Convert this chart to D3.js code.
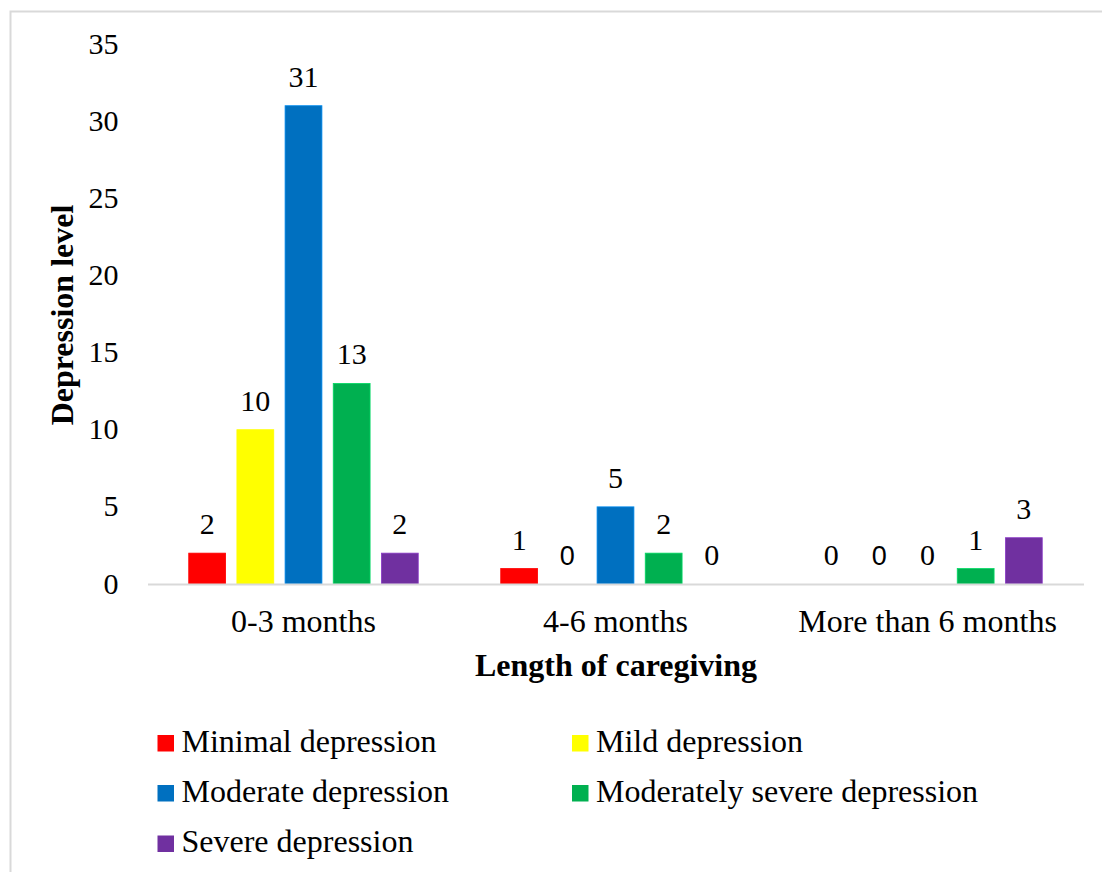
<!DOCTYPE html>
<html>
<head>
<meta charset="utf-8">
<script src="https://cdn.jsdelivr.net/npm/d3@7"></script>
<style>
  html, body { margin: 0; padding: 0; background: #fff; }
  svg { display: block; }
  text { font-family: "Liberation Serif", "Times New Roman", serif; fill: #000; }
</style>
</head>
<body>
<svg id="chart" width="1102" height="872"></svg>
<script>
// ---- data ----
const categories = ["0-3 months", "4-6 months", "More than 6 months"];
const seriesNames = ["Minimal depression", "Mild depression", "Moderate depression", "Moderately severe depression", "Severe depression"];
const minimalValues = [2, 1, 0];
const mildValues = [10, 0, 0];
const moderateValues = [31, 5, 0];
const modSevereValues = [13, 2, 1];
const severeValues = [2, 0, 3];
const yTicks = [0, 5, 10, 15, 20, 25, 30, 35];
const xTitle = "Length of caregiving";
const yTitle = "Depression level";

// ---- styles ----
const colors = ["#FF0000", "#FFFF00", "#0070C0", "#00B050", "#7030A0"];
// labels drawn in a sans face in the original: [categoryIndex, seriesIndex]
const sansLabelKeys = new Set(["1-1", "2-1"]);

const seriesValues = [minimalValues, mildValues, moderateValues, modSevereValues, severeValues];

const svg = d3.select("#chart");
const W = 1102, H = 872;

// outer border
svg.append("rect")
  .attr("x", 10.5).attr("y", 11.5)
  .attr("width", W + 20).attr("height", H + 20)
  .attr("fill", "#fff").attr("stroke", "#d9d9d9").attr("stroke-width", 2);

const plot = { left: 147.5, right: 1083.5, top: 44, bottom: 584 };

const x0 = d3.scaleBand().domain(categories).range([plot.left, plot.right]).paddingInner(0).paddingOuter(0);
const groupWidth = 229.5;
const x1 = d3.scaleBand().domain(seriesNames).range([0, groupWidth]).paddingInner(0.235).paddingOuter(0);
const y = d3.scaleLinear().domain([0, 35]).range([plot.bottom, plot.top]);

// y axis labels (no line, no ticks)
const yAxis = d3.axisLeft(y).tickValues(yTicks).tickSize(0).tickPadding(0);
const yg = svg.append("g").attr("transform", `translate(${118.5},0)`).call(yAxis);
yg.select(".domain").remove();
yg.selectAll("text")
  .attr("font-family", "Liberation Serif, Times New Roman, serif")
  .attr("font-size", 30).attr("fill", "#000")
  .attr("dy", "0.3em");

// bars
const groups = svg.append("g").selectAll("g")
  .data(categories)
  .join("g")
  .attr("transform", d => `translate(${x0(d) + x0.bandwidth() / 2 - groupWidth / 2},0)`);

groups.each(function (cat, ci) {
  const g = d3.select(this);
  seriesNames.forEach((s, si) => {
    const v = seriesValues[si][ci];
    if (v > 0) {
      g.append("rect")
        .attr("x", x1(s))
        .attr("y", y(v))
        .attr("width", x1.bandwidth())
        .attr("height", y(0) - y(v))
        .attr("fill", colors[si])
        .attr("stroke", d3.color(colors[si]).brighter(0.6))
        .attr("stroke-width", 0.8);
    }
    const sans = sansLabelKeys.has(`${ci}-${si}`);
    g.append("text")
      .attr("x", x1(s) + x1.bandwidth() / 2)
      .attr("y", y(v) - 19)
      .attr("text-anchor", "middle")
      .attr("font-size", sans ? 27 : 30)
      .style("font-family", sans ? "'Liberation Sans', Arial, sans-serif" : "'Liberation Serif', 'Times New Roman', serif")
      .text(v);
  });
});

// x axis line
const xAxis = d3.axisBottom(x0).tickSize(0).tickPadding(0);
const xg = svg.append("g").attr("transform", `translate(0,${plot.bottom})`).call(xAxis);
xg.select(".domain").attr("stroke", "#d9d9d9").attr("stroke-width", 2);
xg.selectAll("text")
  .attr("font-family", "Liberation Serif, Times New Roman, serif")
  .attr("font-size", 32).attr("fill", "#000")
  .attr("y", 48).attr("dy", 0);

// axis titles
svg.append("text")
  .attr("x", 616).attr("y", 676)
  .attr("text-anchor", "middle")
  .attr("font-size", 32).attr("font-weight", "bold")
  .text(xTitle);

svg.append("text")
  .attr("transform", `translate(73,315) rotate(-90)`)
  .attr("text-anchor", "middle")
  .attr("font-size", 32).attr("font-weight", "bold")
  .text(yTitle);

// legend
const legendPos = [
  { x: 157.5, y: 751.5 },
  { x: 572, y: 751.5 },
  { x: 157.5, y: 801.5 },
  { x: 572, y: 801.5 },
  { x: 157.5, y: 852 }
];
const legend = svg.append("g").selectAll("g")
  .data(seriesNames)
  .join("g")
  .attr("transform", (d, i) => `translate(${legendPos[i].x},${legendPos[i].y})`);
legend.append("rect")
  .attr("x", 0).attr("y", -16.5)
  .attr("width", 16.5).attr("height", 16.5)
  .attr("fill", (d, i) => colors[i]);
legend.append("text")
  .attr("x", 24).attr("y", 0)
  .attr("font-size", 32)
  .text(d => d);
</script>
</body>
</html>
